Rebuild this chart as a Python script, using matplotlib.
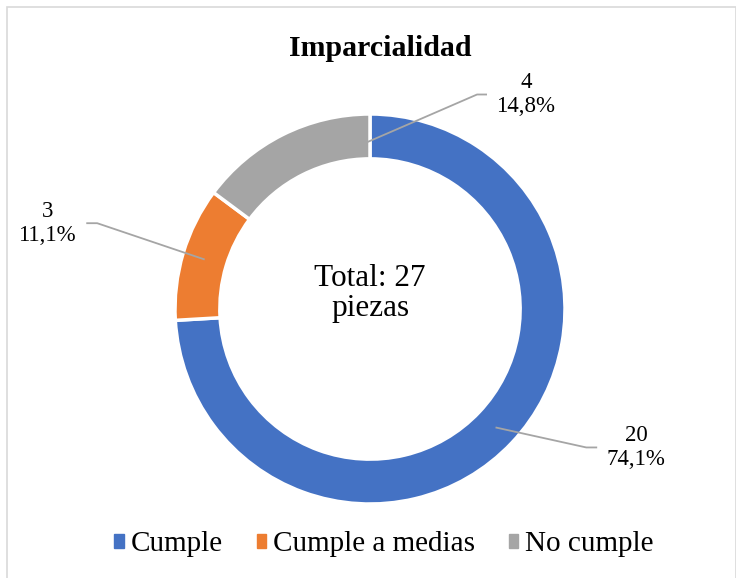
import numpy as np
import matplotlib.pyplot as plt
from matplotlib.patches import Rectangle

# data
categories = ['Cumple', 'Cumple a medias', 'No cumple']
counts = [20, 3, 4]
colors = ['#4472C4', '#ED7D31', '#A5A5A5']
pct_labels = ['74,1%', '11,1%', '14,8%']

plt.rcParams['font.family'] = ['Liberation Serif', 'DejaVu Serif']

fig = plt.figure(figsize=(7.36, 5.78), dpi=100)

# axes covering whole figure, 1 data unit = 195 px, centre at (370, 309) px
R = 195.0
ax = fig.add_axes([0, 0, 1, 1])
wedges, _ = ax.pie(counts, colors=colors, startangle=90, counterclock=False,
                   radius=1.0, wedgeprops=dict(width=0.23, edgecolor='white', linewidth=2.5))
ax.set_xlim(-370 / R, (736 - 370) / R)
ax.set_ylim((309 - 578) / R, 309 / R)
ax.set_aspect('equal')
ax.axis('off')

# leader lines and labels
anchor_frac = [0.5, 0.5, 0.94]          # where along the wedge the leader starts
label_pos = [(1.365, -0.71), (-1.655, 0.44), (0.8, 1.10)]
elbow_dx = [-0.20, 0.20, -0.20]          # horizontal stub end relative to text
stub = [0.056, -0.056, 0.051]
for w, f, (tx, ty), edx, st, n, p in zip(wedges, anchor_frac, label_pos, elbow_dx, stub, counts, pct_labels):
    a = np.deg2rad(w.theta1 + f * (w.theta2 - w.theta1))
    r0 = 0.885
    x0, y0 = r0 * np.cos(a), r0 * np.sin(a)
    xe = tx + edx
    ax.plot([x0, xe - st, xe], [y0, ty, ty], color='#A5A5A5', lw=1.3, solid_capstyle='butt')
    ax.text(tx, ty, f'{n}\n{p}', ha='center', va='center', fontsize=16.5,
            linespacing=1.2, color='black')

ax.text(0, 0.08, 'Total: 27\npiezas', ha='center', va='center', fontsize=22.5,
        linespacing=1.05, color='black')

fig.text(0.516, 0.916, 'Imparcialidad', ha='center', va='center', fontsize=21.5,
         fontweight='bold', color='black')

handles = [Rectangle((0, 0), 1, 1, color=c) for c in colors]
fig.legend(handles, categories, loc='center', bbox_to_anchor=(0.522, 0.058), ncol=3,
           frameon=False, fontsize=21, handlelength=0.32, handleheight=0.32,
           handletextpad=0.25, columnspacing=1.15)

# light chart border
fig.patches.append(Rectangle((0.0095, -0.01), 0.99, 0.998, transform=fig.transFigure,
                             fill=False, edgecolor='#D9D9D9', lw=1.2))

fig.savefig('out.png', dpi=100)
